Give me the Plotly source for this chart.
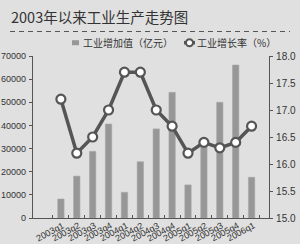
import plotly.graph_objects as go

categories = ["2003q1", "2003q2", "2003q3", "2003q4", "2004q1", "2004q2", "2004q3",
              "2004q4", "2005q1", "2005q2", "2005q3", "2005q4", "2006q1"]
value_added = [8200, 18100, 28800, 40600, 11100, 24300, 38500,
               54300, 14300, 31200, 50000, 66100, 17600]
growth_rate = [17.2, 16.2, 16.5, 17.0, 17.7, 17.7, 17.0,
               16.7, 16.2, 16.4, 16.3, 16.4, 16.7]
left_ticks = [0, 10000, 20000, 30000, 40000, 50000, 60000, 70000]
right_ticks = [15.0, 15.5, 16.0, 16.5, 17.0, 17.5, 18.0]
series_names = ["工业增加值（亿元）", "工业增长率（%）"]
title_text = "2003年以来工业生产走势图"

BG = "#e0e0e0"
DARK = "#555555"
BAR = "#979797"
FONT = "Liberation Sans, Noto Sans CJK SC, sans-serif"
CJK = "Noto Sans CJK SC, sans-serif"

# plot area in pixels: left 33, right 269, top 56, bottom 218
L, R, T, B = 33, 269, 56, 218
W, H = R - L, B - T


def px(x):
    return (x - L) / W


def py(y):
    return (B - y) / H


fig = go.Figure()
fig.add_trace(go.Bar(
    x=categories, y=value_added, name=series_names[0],
    marker=dict(color=BAR, line=dict(color="#a8a8a8", width=0.6)),
    yaxis="y",
))
fig.add_trace(go.Scatter(
    x=categories, y=growth_rate, name=series_names[1],
    mode="lines+markers",
    line=dict(color=DARK, width=3.5),
    marker=dict(size=9, color="white", line=dict(color=DARK, width=2.2)),
    yaxis="y2",
))

leg_y = 42.7
shapes = [
    # dashed rule under the title
    dict(type="line", xref="paper", yref="paper",
         x0=px(10), x1=px(290), y0=py(31.5), y1=py(31.5),
         line=dict(color=DARK, width=1, dash="5px,4px")),
    # legend: bar swatch
    dict(type="rect", xref="paper", yref="paper",
         x0=px(72), x1=px(79), y0=py(leg_y + 2.5), y1=py(leg_y - 2.5),
         fillcolor=BAR, line=dict(width=0)),
    # legend: line swatch
    dict(type="line", xref="paper", yref="paper",
         x0=px(184), x1=px(195), y0=py(leg_y), y1=py(leg_y),
         line=dict(color=DARK, width=3.5)),
    dict(type="circle", xref="paper", yref="paper",
         x0=px(186), x1=px(193), y0=py(leg_y + 3.5), y1=py(leg_y - 3.5),
         fillcolor="white", line=dict(color=DARK, width=2)),
]

annotations = [
    dict(text=title_text, xref="paper", yref="paper",
         x=px(9), y=py(16.5), xanchor="left", yanchor="middle", showarrow=False,
         font=dict(family=CJK, size=14.5, color="#333333")),
    dict(text=series_names[0], xref="paper", yref="paper",
         x=px(81), y=py(leg_y), xanchor="left", yanchor="middle", showarrow=False,
         font=dict(family=CJK, size=10, color="#333333")),
    dict(text=series_names[1], xref="paper", yref="paper",
         x=px(195), y=py(leg_y), xanchor="left", yanchor="middle", showarrow=False,
         font=dict(family=CJK, size=10, color="#333333")),
]
# rotated category labels under the x axis
for c in categories:
    annotations.append(dict(
        text=c, xref="x", yref="paper", x=c, y=0,
        xanchor="right", yanchor="top", xshift=6, yshift=-1,
        textangle=-28, showarrow=False, borderpad=0,
        font=dict(family=FONT, size=9, color="#333333"),
    ))

fig.update_layout(
    width=300, height=244,
    margin=dict(l=L, r=300 - R, t=T, b=244 - B, autoexpand=False),
    paper_bgcolor=BG, plot_bgcolor=BG,
    bargap=0.6,
    showlegend=False,
    font=dict(family=FONT, color="#333333"),
    xaxis=dict(
        type="category", showline=True, linecolor=DARK, linewidth=1.2,
        ticks="inside", tickson="boundaries", ticklen=3, tickcolor=DARK,
        showticklabels=False,
        showgrid=False, zeroline=False, automargin=False,
    ),
    yaxis=dict(
        range=[0, 70000], tickvals=left_ticks, tickformat="d",
        showline=True, linecolor=DARK,
        linewidth=1.2, ticks="outside", ticklen=3, tickcolor=DARK,
        tickfont=dict(size=9, color="#333333", family=FONT),
        showgrid=False, zeroline=False, ticklabelstandoff=1, automargin=False,
    ),
    yaxis2=dict(
        range=[15.0, 18.0], tickvals=right_ticks, tickformat=".1f",
        overlaying="y", side="right", showline=True, linecolor=DARK,
        linewidth=1.2, ticks="outside", ticklen=3, tickcolor=DARK,
        tickfont=dict(size=10, color="#333333", family=FONT),
        showgrid=False, zeroline=False, ticklabelstandoff=1, automargin=False,
    ),
    shapes=shapes,
    annotations=annotations,
)

fig.write_html("out.html")
